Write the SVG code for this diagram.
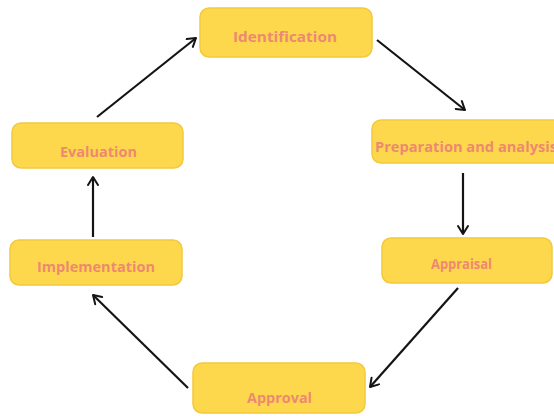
<svg xmlns="http://www.w3.org/2000/svg" width="554" height="416" viewBox="0 0 554 416">
  <style>
    .box { fill: #FDD84C; stroke: #F4C93C; stroke-width: 1.5; }
    .label { font-family: "Open Sans", "Liberation Sans", sans-serif; font-weight: bold; font-size: 14px; fill: #EE8872; }
    .link { fill: none; stroke: #141414; stroke-width: 2.2; marker-end: url(#head); }
  </style>
  <defs>
    <marker id="head" viewBox="0 0 12 12" refX="10" refY="6" markerWidth="12" markerHeight="12" markerUnits="userSpaceOnUse" orient="auto">
      <path d="M2,1 L10,6 L2,11" fill="none" stroke="#141414" stroke-width="2" stroke-linecap="round" stroke-linejoin="round"/>
    </marker>
  </defs>
  <rect width="554" height="416" fill="#ffffff"/>

  <g id="connectors">
    <line class="link" x1="97" y1="117" x2="196" y2="38"/>
    <line class="link" x1="377" y1="40" x2="465" y2="110"/>
    <line class="link" x1="463" y1="173" x2="463" y2="234"/>
    <line class="link" x1="458" y1="288" x2="370" y2="387"/>
    <line class="link" x1="188" y1="388" x2="93" y2="295"/>
    <line class="link" x1="93" y1="237" x2="93" y2="177"/>
  </g>

  <g id="identification">
    <rect class="box" x="200" y="8" width="172" height="49" rx="9"/>
    <text class="label" x="233" y="42" textLength="104" lengthAdjust="spacingAndGlyphs">Identification</text>
  </g>

  <g id="preparation">
    <rect class="box" x="372" y="120" width="190" height="43" rx="9"/>
    <text class="label" x="375" y="152" textLength="182" lengthAdjust="spacingAndGlyphs">Preparation and analysis</text>
  </g>

  <g id="appraisal">
    <rect class="box" x="382" y="238" width="170" height="45" rx="9"/>
    <text class="label" x="431" y="269" textLength="61" lengthAdjust="spacingAndGlyphs">Appraisal</text>
  </g>

  <g id="approval">
    <rect class="box" x="193" y="363" width="172" height="50" rx="9"/>
    <text class="label" x="247" y="403" textLength="65" lengthAdjust="spacingAndGlyphs">Approval</text>
  </g>

  <g id="implementation">
    <rect class="box" x="10" y="240" width="172" height="45" rx="9"/>
    <text class="label" x="37" y="272" textLength="118" lengthAdjust="spacingAndGlyphs">Implementation</text>
  </g>

  <g id="evaluation">
    <rect class="box" x="12" y="123" width="171" height="45" rx="9"/>
    <text class="label" x="60" y="157" textLength="77" lengthAdjust="spacingAndGlyphs">Evaluation</text>
  </g>
</svg>
